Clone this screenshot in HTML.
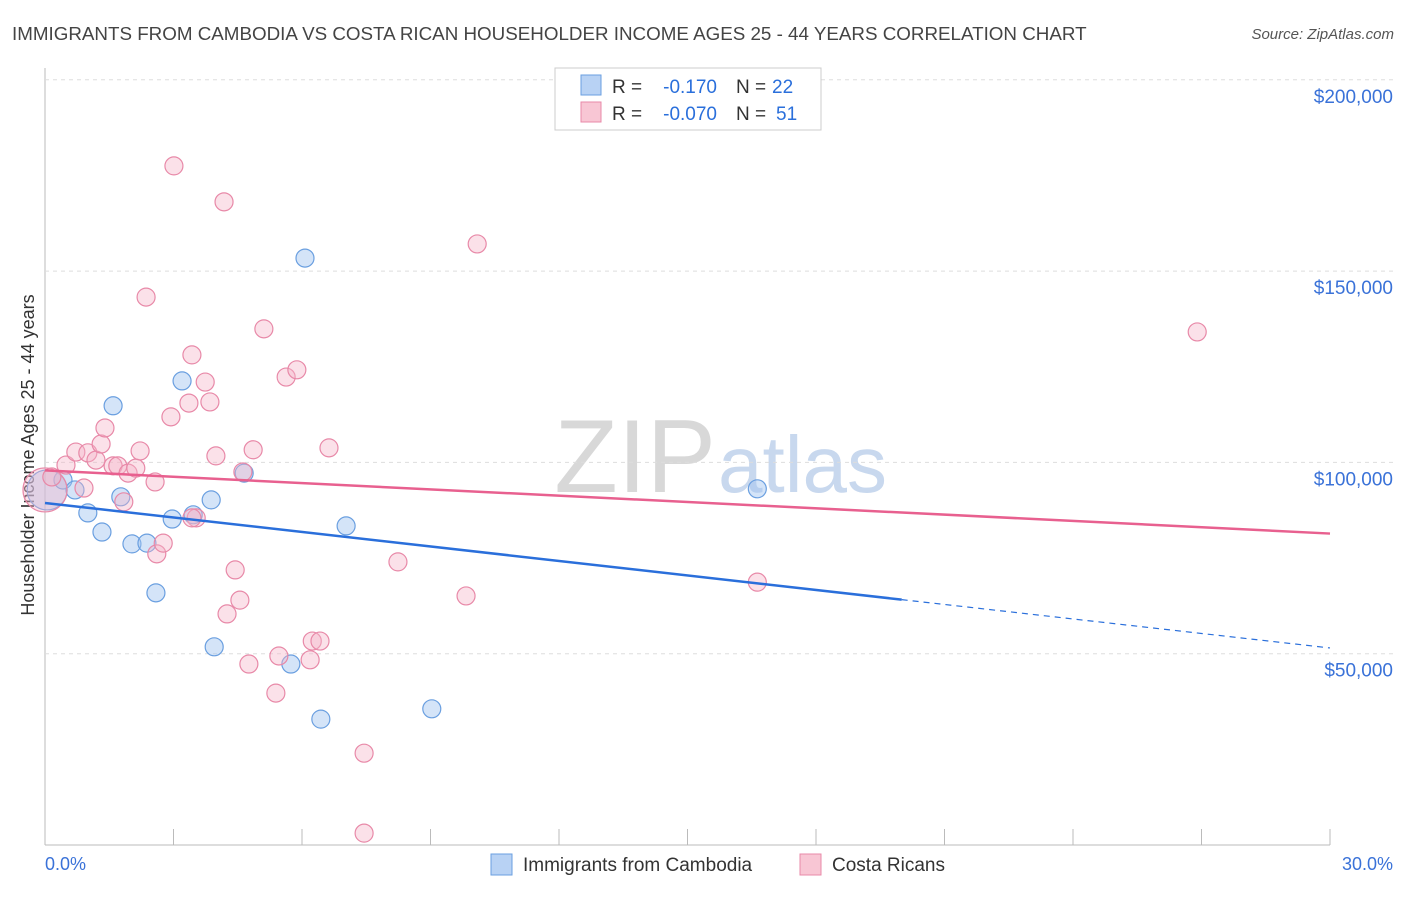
<!DOCTYPE html>
<html><head><meta charset="utf-8"><style>
body{margin:0;background:#fff;font-family:"Liberation Sans",sans-serif;}
svg text{font-family:"Liberation Sans",sans-serif;}
</style></head><body>
<svg id="c" width="1406" height="892">
<text x="12" y="40" font-size="18.8" fill="#444">IMMIGRANTS FROM CAMBODIA VS COSTA RICAN HOUSEHOLDER INCOME AGES 25 - 44 YEARS CORRELATION CHART</text>
<text x="1394" y="39" font-size="15" fill="#555" text-anchor="end" font-style="italic">Source: ZipAtlas.com</text>
<text x="716" y="492" font-size="104" fill="#d8d8d8" text-anchor="end" font-family="Liberation Serif">ZIP</text>
<text x="718" y="492" font-size="80" fill="#c8d8ee">atlas</text>
<text transform="translate(34,455) rotate(-90)" font-size="18" fill="#333" text-anchor="middle">Householder Income Ages 25 - 44 years</text>
<g id="grid"></g><g id="pts"></g><g id="lines"></g>
<g>
<rect x="555" y="68" width="266" height="62" fill="#fff" stroke="#ccc"/>
<rect x="581" y="75" width="20" height="20" fill="#b8d2f4" stroke="#6a9fe0"/>
<rect x="581" y="102" width="20" height="20" fill="#f8c6d4" stroke="#e889a8"/>
<text x="612" y="93" font-size="19" fill="#333">R =</text>
<text x="717" y="93" font-size="19" fill="#2a6fdb" text-anchor="end">-0.170</text>
<text x="736" y="93" font-size="19" fill="#333">N =</text>
<text x="772" y="93" font-size="19" fill="#2a6fdb">22</text>
<text x="612" y="120" font-size="19" fill="#333">R =</text>
<text x="717" y="120" font-size="19" fill="#2a6fdb" text-anchor="end">-0.070</text>
<text x="736" y="120" font-size="19" fill="#333">N =</text>
<text x="776" y="120" font-size="19" fill="#2a6fdb">51</text>
</g>
<g>
<rect x="491" y="854" width="21" height="21" fill="#b8d2f4" stroke="#6a9fe0"/>
<text x="523" y="871" font-size="19" fill="#333">Immigrants from Cambodia</text>
<rect x="800" y="854" width="21" height="21" fill="#f8c6d4" stroke="#e889a8"/>
<text x="832" y="871" font-size="19" fill="#333">Costa Ricans</text>
</g>
<text x="45" y="870" font-size="18" fill="#3a72d8">0.0%</text>
<text x="1393" y="870" font-size="18" fill="#3a72d8" text-anchor="end">30.0%</text>
</svg>
<script>
const yTicks=[50,100,150,200];
const yTickLabels=["$50,000","$100,000","$150,000","$200,000"];
const blueX=[0.05,0.42,0.70,1.00,1.33,1.59,1.77,2.03,2.38,2.59,2.97,3.20,3.46,3.88,3.95,4.65,5.74,6.07,6.44,7.03,9.03,16.63];
const blueY=[92.8,95.4,92.8,86.8,81.8,114.8,91.0,78.7,78.9,65.9,85.2,121.3,86.3,90.2,51.8,97.2,47.3,153.4,32.9,83.4,35.6,93.1];
const pinkX=[0.0,0.16,0.49,0.72,0.91,1.00,1.19,1.31,1.40,1.59,1.70,1.84,1.94,2.12,2.22,2.36,2.57,2.61,2.76,2.94,3.01,3.36,3.43,3.53,3.74,3.85,3.99,4.18,4.25,4.44,4.55,4.76,4.86,5.11,5.39,5.46,5.63,5.88,6.19,6.24,6.42,6.63,7.45,7.45,8.24,9.83,10.09,16.63,26.90,4.62,3.43];
const pinkY=[92.8,96.2,99.3,102.7,93.3,102.5,100.6,104.8,109.0,99.1,99.1,89.7,97.2,98.5,103.0,143.2,94.9,76.1,78.9,111.9,177.5,115.5,128.1,85.5,121.0,115.8,101.7,168.1,60.4,71.9,64.0,47.3,103.3,134.9,39.7,49.4,122.3,124.2,48.4,53.3,53.3,103.8,24.0,3.1,74.0,65.1,157.1,68.7,134.1,97.5,85.5];
const blueTrend=[89.4,51.5], pinkTrend=[97.9,81.4];
const X=v=>45+v/30*1285, Y=v=>845-v/50*191.3;
const NS="http://www.w3.org/2000/svg";
function mk(t,a,p){const e=document.createElementNS(NS,t);for(const k in a)e.setAttribute(k,a[k]);p.appendChild(e);return e;}
const g=document.getElementById('grid');
const ax=mk('line',{x1:45,y1:68,x2:45,y2:845,stroke:'#bbb'},g);


const bx=mk('line',{x1:45,y1:845,x2:1330,y2:845,stroke:'#bbb'},g);


for(let i=0;i<=10;i++){const t=mk('line',{x1:X(i*3),x2:X(i*3),y1:829,y2:845,stroke:'#bbb'},g);

}
yTicks.forEach((v,i)=>{const l=mk('line',{x1:45,x2:1394,y1:Y(v),y2:Y(v),stroke:'#ddd','stroke-dasharray':'4,4'},g);


const t=mk('text',{x:1393,y:Y(v)+23,'font-size':19,fill:'#3a72d8','text-anchor':'end'},g);t.textContent=yTickLabels[i];

});
const p=document.getElementById('pts');
blueX.forEach((x,i)=>{const c=mk('circle',{cx:X(x),cy:Y(blueY[i]),r:i==0?20:9,fill:'rgba(160,195,240,0.45)',stroke:'#6a9fe0','stroke-width':1.2},p);

});
pinkX.forEach((x,i)=>{const c=mk('circle',{cx:X(x),cy:Y(pinkY[i]),r:i==0?22:9,fill:'rgba(246,180,200,0.4)',stroke:'#e889a8','stroke-width':1.2},p);

});
const L=document.getElementById('lines');
const by=x=>blueTrend[0]+(blueTrend[1]-blueTrend[0])*x/30;
const b1=mk('line',{x1:X(0),y1:Y(by(0)),x2:X(20),y2:Y(by(20)),stroke:'#2a6fdb','stroke-width':2.5},L);


const b2=mk('line',{x1:X(20),y1:Y(by(20)),x2:X(30),y2:Y(by(30)),stroke:'#2a6fdb','stroke-width':1.2,'stroke-dasharray':'6,5'},L);


const p1=mk('line',{x1:X(0),y1:Y(pinkTrend[0]),x2:X(30),y2:Y(pinkTrend[1]),stroke:'#e8608f','stroke-width':2.5},L);


</script>
</body></html>
